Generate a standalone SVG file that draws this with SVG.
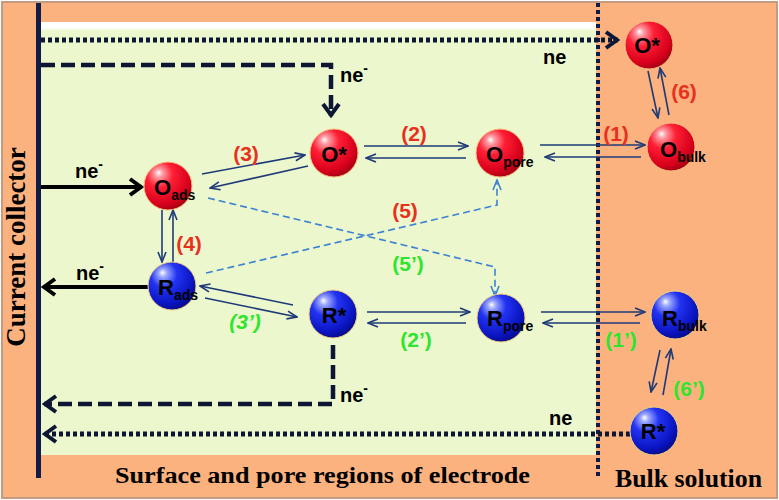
<svg xmlns="http://www.w3.org/2000/svg" width="779" height="500" viewBox="0 0 779 500">
<style>
.thin{fill:none;stroke:#1E3A78;stroke-width:1.6}
.bd{fill:none;stroke:#3C82D2;stroke-width:1.6;stroke-dasharray:7 4}
.dsh{fill:none;stroke:#0D1633;stroke-width:4.5;stroke-dasharray:14 6}
.dot{fill:none;stroke:#0D1633;stroke-width:5;stroke-dasharray:4 3}
.solid{fill:none;stroke:#000;stroke-width:4}
.num{font-family:"Liberation Sans",Arial,sans-serif;font-weight:bold;font-size:21px;text-anchor:middle}
.r{fill:#E8301E}
.g{fill:#2EE52E}
.ne{font-family:"Liberation Sans",Arial,sans-serif;font-weight:bold;font-size:20px;fill:#000}
.nt{font-family:"Liberation Sans",Arial,sans-serif;font-weight:bold;font-size:22px;fill:#000}
.sub{font-size:14px}
.frame{font-family:"Liberation Serif","Times New Roman",serif;font-weight:bold;fill:#000}
.red{fill:url(#rg);stroke:#F5C080;stroke-width:1}
.blue{fill:url(#bg);stroke:#F2D27A;stroke-width:1}
</style>
<defs>
<radialGradient id="rg" cx="0.38" cy="0.32" r="0.72" fx="0.3" fy="0.22">
<stop offset="0" stop-color="#FFFFFF"/>
<stop offset="0.12" stop-color="#FF9AA2"/>
<stop offset="0.38" stop-color="#FF1F35"/>
<stop offset="0.8" stop-color="#D8001C"/>
<stop offset="1" stop-color="#A00012"/>
</radialGradient>
<radialGradient id="bg" cx="0.38" cy="0.32" r="0.72" fx="0.3" fy="0.22">
<stop offset="0" stop-color="#FFFFFF"/>
<stop offset="0.12" stop-color="#9AA6FF"/>
<stop offset="0.38" stop-color="#2233F2"/>
<stop offset="0.8" stop-color="#0A14C0"/>
<stop offset="1" stop-color="#060A85"/>
</radialGradient>
<linearGradient id="wg" x1="0" y1="0" x2="0" y2="1">
<stop offset="0" stop-color="#FFFFFF"/>
<stop offset="0.6" stop-color="#FFFFFF"/>
<stop offset="1" stop-color="#EDF7CE"/>
</linearGradient>
<marker id="at" viewBox="0 0 12 10" refX="11" refY="5" markerWidth="12" markerHeight="10" orient="auto" markerUnits="userSpaceOnUse">
<path d="M1,1 L11,5 L1,9" fill="none" stroke="#1E3A78" stroke-width="1.6"/>
</marker>
<marker id="ab" viewBox="0 0 12 10" refX="11" refY="5" markerWidth="12" markerHeight="10" orient="auto" markerUnits="userSpaceOnUse">
<path d="M1,1 L11,5 L1,9" fill="none" stroke="#3C82D2" stroke-width="1.6"/>
</marker>
<marker id="ah" viewBox="0 0 16 20" refX="14" refY="10" markerWidth="16" markerHeight="20" orient="auto" markerUnits="userSpaceOnUse">
<path d="M2,2 L13,10 L2,18" fill="none" stroke="#0D1633" stroke-width="4"/>
</marker>
<marker id="ak" viewBox="0 0 16 20" refX="14" refY="10" markerWidth="16" markerHeight="20" orient="auto" markerUnits="userSpaceOnUse">
<path d="M2,2 L13,10 L2,18" fill="none" stroke="#000" stroke-width="4"/>
</marker>
</defs>

<g id="background">
<rect x="2" y="2" width="775" height="496" fill="#FBB27F" stroke="#C39A82" stroke-width="2"/>
<rect x="40" y="22" width="556" height="433" fill="#EDF7CE"/>
<rect x="40" y="22" width="556" height="9" fill="url(#wg)"/>
<line x1="38.5" y1="3" x2="38.5" y2="478" stroke="#101C45" stroke-width="5"/>
<line x1="598" y1="3" x2="598" y2="478" stroke="#101C45" stroke-width="4" stroke-dasharray="4 3"/>
<text class="frame" font-size="27" text-anchor="middle" transform="translate(25,247) rotate(-90)">Current collector</text>
<text class="frame" x="115" y="483" font-size="24" textLength="415" lengthAdjust="spacingAndGlyphs">Surface and pore regions of electrode</text>
<text class="frame" x="615" y="487" font-size="25" textLength="147" lengthAdjust="spacingAndGlyphs">Bulk solution</text>
</g>

<g id="connectors">
<path class="dot" d="M41,40 H618" marker-end="url(#ah)"/>
<path class="dot" d="M630,434 H44" marker-end="url(#ah)"/>
<path class="dsh" d="M41,65 H331 V116" marker-end="url(#ah)"/>
<path class="dsh" d="M333,345 V404 H44" marker-end="url(#ah)"/>
<path class="solid" d="M41,187 H142" marker-end="url(#ak)"/>
<path class="solid" d="M148,287 H43" marker-end="url(#ak)"/>
<path class="thin" d="M202,174 L305,155" marker-end="url(#at)"/>
<path class="thin" d="M308,166 L210,188" marker-end="url(#at)"/>
<path class="thin" d="M364,146 H468" marker-end="url(#at)"/>
<path class="thin" d="M466,158 H366" marker-end="url(#at)"/>
<path class="thin" d="M540,145 H645" marker-end="url(#at)"/>
<path class="thin" d="M641,157 H545" marker-end="url(#at)"/>
<path class="thin" d="M648,71 L658,118" marker-end="url(#at)"/>
<path class="thin" d="M669,115 L660,68" marker-end="url(#at)"/>
<path class="thin" d="M162,210 V262" marker-end="url(#at)"/>
<path class="thin" d="M173,262 V210" marker-end="url(#at)"/>
<path class="thin" d="M293,305 L200,286" marker-end="url(#at)"/>
<path class="thin" d="M205,298 L297,317" marker-end="url(#at)"/>
<path class="thin" d="M367,312 H470" marker-end="url(#at)"/>
<path class="thin" d="M466,323 H368" marker-end="url(#at)"/>
<path class="thin" d="M541,312 H645" marker-end="url(#at)"/>
<path class="thin" d="M640,323 H543" marker-end="url(#at)"/>
<path class="thin" d="M660,350 L651,392" marker-end="url(#at)"/>
<path class="thin" d="M663,395 L671,349" marker-end="url(#at)"/>
<path class="bd" d="M206,273 L497,205 V180" marker-end="url(#ab)"/>
<path class="bd" d="M208,198 L495,267 V296" marker-end="url(#ab)"/>
</g>

<g id="labels">
<text class="num r" x="246" y="161">(3)</text>
<text class="num r" x="414" y="141">(2)</text>
<text class="num r" x="616" y="141">(1)</text>
<text class="num r" x="684" y="99">(6)</text>
<text class="num r" x="189" y="251">(4)</text>
<text class="num r" x="405" y="218">(5)</text>
<text class="num g" x="408" y="271">(5’)</text>
<text class="num g" x="245" y="329" font-style="italic">(3’)</text>
<text class="num g" x="416" y="347">(2’)</text>
<text class="num g" x="621" y="347">(1’)</text>
<text class="num g" x="689" y="396">(6’)</text>
<text class="ne" x="75" y="178">ne<tspan font-size="14" dy="-9">-</tspan></text>
<text class="ne" x="76" y="280">ne<tspan font-size="14" dy="-9">-</tspan></text>
<text class="ne" x="340" y="82">ne<tspan font-size="14" dy="-9">-</tspan></text>
<text class="ne" x="543" y="64">ne</text>
<text class="ne" x="340" y="402">ne<tspan font-size="14" dy="-9">-</tspan></text>
<text class="ne" x="549" y="425">ne</text>
</g>

<g id="O_ads"><circle class="red" cx="168" cy="186" r="24"/><text class="nt" x="154" y="195">O<tspan class="sub" dy="5">ads</tspan></text></g>
<g id="O_star"><circle class="red" cx="334" cy="153" r="24"/><text class="nt" x="334" y="162" text-anchor="middle">O*</text></g>
<g id="O_pore"><circle class="red" cx="500" cy="153" r="24"/><text class="nt" x="486" y="162">O<tspan class="sub" dy="5">pore</tspan></text></g>
<g id="O_star_bulk"><circle class="red" cx="649" cy="45" r="24"/><text class="nt" x="647" y="53" text-anchor="middle">O*</text></g>
<g id="O_bulk"><circle class="red" cx="671" cy="147" r="24"/><text class="nt" x="660" y="157">O<tspan class="sub" dy="5">bulk</tspan></text></g>
<g id="R_ads"><circle class="blue" cx="172" cy="286" r="24"/><text class="nt" x="158" y="295">R<tspan class="sub" dy="5">ads</tspan></text></g>
<g id="R_star"><circle class="blue" cx="333" cy="314" r="24"/><text class="nt" x="334" y="323" text-anchor="middle">R*</text></g>
<g id="R_pore"><circle class="blue" cx="501" cy="318" r="24"/><text class="nt" x="487" y="326">R<tspan class="sub" dy="5">pore</tspan></text></g>
<g id="R_bulk"><circle class="blue" cx="675" cy="315" r="24"/><text class="nt" x="662" y="326">R<tspan class="sub" dy="5">bulk</tspan></text></g>
<g id="R_star_bulk"><circle class="blue" cx="654" cy="431" r="24"/><text class="nt" x="653" y="439" font-size="19" text-anchor="middle">R*</text></g>
</svg>
